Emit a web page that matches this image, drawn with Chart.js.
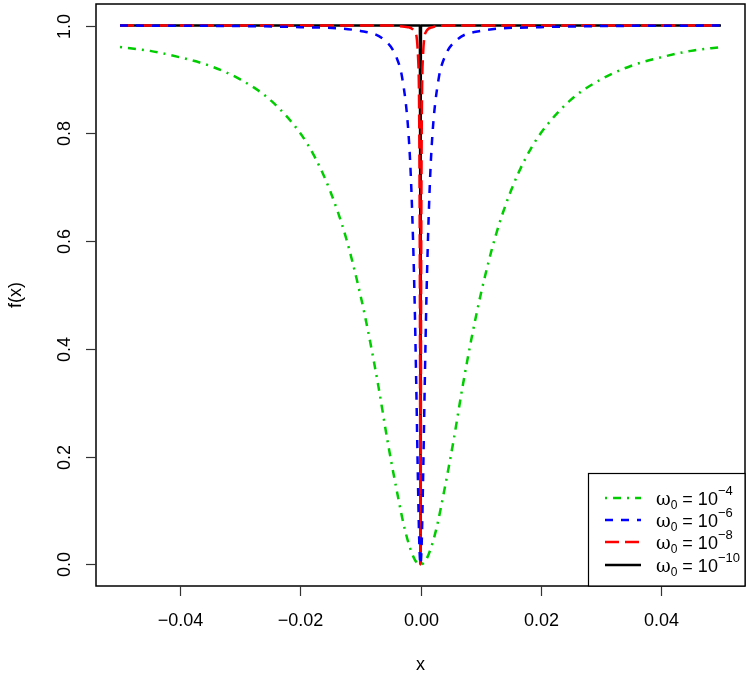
<!DOCTYPE html>
<html>
<head>
<meta charset="utf-8">
<script src="https://cdn.jsdelivr.net/npm/chart.js@4/dist/chart.umd.min.js"></script>
<style>
  html, body { margin: 0; padding: 0; background: #fff; }
  #wrap { width: 750px; height: 676px; }
</style>
</head>
<body>
<div id="wrap"><canvas id="chart" width="750" height="676"></canvas></div>
<script>
// values
const greenX = [-0.05, -0.045, -0.04, -0.035, -0.03, -0.025, -0.02, -0.0175, -0.015, -0.0125, -0.01, -0.0085, -0.007, -0.0055, -0.004, -0.0025, -0.001, 0,
                0.001, 0.0025, 0.004, 0.0055, 0.007, 0.0085, 0.01, 0.0125, 0.015, 0.0175, 0.02, 0.025, 0.03, 0.035, 0.04, 0.045, 0.05];
const greenY = [0.96, 0.953, 0.941, 0.925, 0.90, 0.862, 0.80, 0.754, 0.692, 0.61, 0.50, 0.42, 0.33, 0.23, 0.14, 0.06, 0.01, 0,
                0.01, 0.06, 0.14, 0.23, 0.33, 0.42, 0.50, 0.61, 0.692, 0.754, 0.80, 0.862, 0.90, 0.925, 0.941, 0.953, 0.96];

const blueX = [-0.05, -0.03, -0.02, -0.01, -0.006, -0.004, -0.003, -0.002, -0.0015, -0.001, -0.0007, -0.0004, -0.0002, 0,
               0.0002, 0.0004, 0.0007, 0.001, 0.0015, 0.002, 0.003, 0.004, 0.006, 0.01, 0.02, 0.03, 0.05];
const blueY = [1.0, 0.999, 0.997, 0.99, 0.973, 0.941, 0.90, 0.80, 0.69, 0.50, 0.33, 0.14, 0.04, 0,
               0.04, 0.14, 0.33, 0.50, 0.69, 0.80, 0.90, 0.941, 0.973, 0.99, 0.997, 0.999, 1.0];

const redX = [-0.05, -0.005, -0.002, -0.001, -0.0004, -0.0002, -0.0001, -0.00004, 0,
              0.00004, 0.0001, 0.0002, 0.0004, 0.001, 0.002, 0.005, 0.05];
const redY = [1.0, 1.0, 0.997, 0.99, 0.94, 0.80, 0.50, 0.14, 0,
              0.14, 0.50, 0.80, 0.94, 0.99, 0.997, 1.0, 1.0];

const blackX = [-0.05, -0.0001, -0.00001, 0, 0.00001, 0.0001, 0.05];
const blackY = [1.0, 1.0, 0.50, 0, 0.50, 1.0, 1.0];

const xTicks = [-0.04, -0.02, 0, 0.02, 0.04];
const xTickLabels = ["\u22120.04", "\u22120.02", "0.00", "0.02", "0.04"];
const yTicks = [0, 0.2, 0.4, 0.6, 0.8, 1.0];
const yTickLabels = ["0.0", "0.2", "0.4", "0.6", "0.8", "1.0"];

const seriesExp = ["\u22124", "\u22126", "\u22128", "\u221210"];
const seriesColors = ["#00cd00", "#0000ff", "#ff0000", "#000000"];
const seriesDash = [[2, 6, 8, 6], [8, 8], [14, 6], []];

const FONT = "'Liberation Sans', Arial, sans-serif";

function pts(xs, ys) {
  return xs.map((x, i) => ({ x: x, y: ys[i] }));
}

function makeSet(xs, ys, i) {
  return {
    label: "\u03c9\u2080 = 10^" + seriesExp[i],
    data: pts(xs, ys),
    borderColor: seriesColors[i],
    borderWidth: 2.5,
    borderDash: seriesDash[i],
    borderCapStyle: "butt",
    pointRadius: 0,
    fill: false,
    cubicInterpolationMode: "monotone",
  };
}

// R style frame, axes and legend
const rAxes = {
  id: "rAxes",
  afterDatasetsDraw(chart) {
    const ctx = chart.ctx;
    const a = chart.chartArea;
    const xs = chart.scales.x;
    const ys = chart.scales.y;
    ctx.save();

    // frame
    ctx.strokeStyle = "#000";
    ctx.lineWidth = 1.5;
    ctx.strokeRect(a.left, a.top, a.right - a.left, a.bottom - a.top);

    // x ticks
    ctx.strokeStyle = "#333";
    ctx.lineWidth = 1.2;
    ctx.fillStyle = "#000";
    ctx.font = "18px " + FONT;
    ctx.textAlign = "center";
    ctx.textBaseline = "middle";
    xTicks.forEach((v, i) => {
      const px = Math.round(xs.getPixelForValue(v)) + 0.5;
      ctx.beginPath();
      ctx.moveTo(px, a.bottom);
      ctx.lineTo(px, a.bottom + 10);
      ctx.stroke();
      ctx.fillText(xTickLabels[i], px, 621);
    });

    // y ticks (labels rotated like R)
    yTicks.forEach((v, i) => {
      const py = Math.round(ys.getPixelForValue(v)) + 0.5;
      ctx.beginPath();
      ctx.moveTo(a.left, py);
      ctx.lineTo(a.left - 10, py);
      ctx.stroke();
      ctx.save();
      ctx.translate(65, py);
      ctx.rotate(-Math.PI / 2);
      ctx.fillText(yTickLabels[i], 0, 0);
      ctx.restore();
    });

    // axis titles
    ctx.fillText("x", (a.left + a.right) / 2, 665);
    ctx.save();
    ctx.translate(16, (a.top + a.bottom) / 2);
    ctx.rotate(-Math.PI / 2);
    ctx.fillText("f(x)", 0, 0);
    ctx.restore();

    // legend
    const bx = 588.5, by = 473.5;
    ctx.fillStyle = "#fff";
    ctx.fillRect(bx, by, a.right - bx, a.bottom - by);
    ctx.strokeStyle = "#000";
    ctx.lineWidth = 1.2;
    ctx.strokeRect(bx, by, a.right - bx, a.bottom - by);

    const rowsY = [498, 520, 542, 565];
    chart.data.datasets.forEach((ds, i) => {
      const y = rowsY[i];
      ctx.strokeStyle = ds.borderColor;
      ctx.lineWidth = 2.5;
      ctx.setLineDash(ds.borderDash);
      ctx.beginPath();
      ctx.moveTo(605, y);
      ctx.lineTo(641, y);
      ctx.stroke();
      ctx.setLineDash([]);

      ctx.fillStyle = "#000";
      ctx.textAlign = "left";
      ctx.textBaseline = "alphabetic";
      let x = 656;
      const base = y + 7;
      ctx.font = "18px 'DejaVu Serif', 'Liberation Serif', serif";
      ctx.fillText("\u03c9", x, base);
      x += ctx.measureText("\u03c9").width;
      ctx.font = "12px " + FONT;
      ctx.fillText("0", x, base + 4);
      x += ctx.measureText("0").width;
      ctx.font = "18px " + FONT;
      ctx.fillText(" = 10", x, base);
      x += ctx.measureText(" = 10").width;
      ctx.font = "13px " + FONT;
      ctx.fillText(seriesExp[i], x, base - 10);
    });

    ctx.restore();
  }
};

const chart = new Chart(document.getElementById("chart").getContext("2d"), {
  type: "line",
  data: {
    datasets: [
      makeSet(greenX, greenY, 0),
      makeSet(blueX, blueY, 1),
      makeSet(redX, redY, 2),
      makeSet(blackX, blackY, 3),
    ],
  },
  options: {
    responsive: false,
    animation: false,
    layout: { padding: { left: 96, top: 4, right: 5, bottom: 90 } },
    plugins: {
      legend: { display: false },
      tooltip: { enabled: false },
    },
    scales: {
      x: { type: "linear", min: -0.054, max: 0.054, display: false },
      y: { type: "linear", min: -0.04, max: 1.04, display: false },
    },
  },
  plugins: [rAxes],
});
</script>
</body>
</html>
